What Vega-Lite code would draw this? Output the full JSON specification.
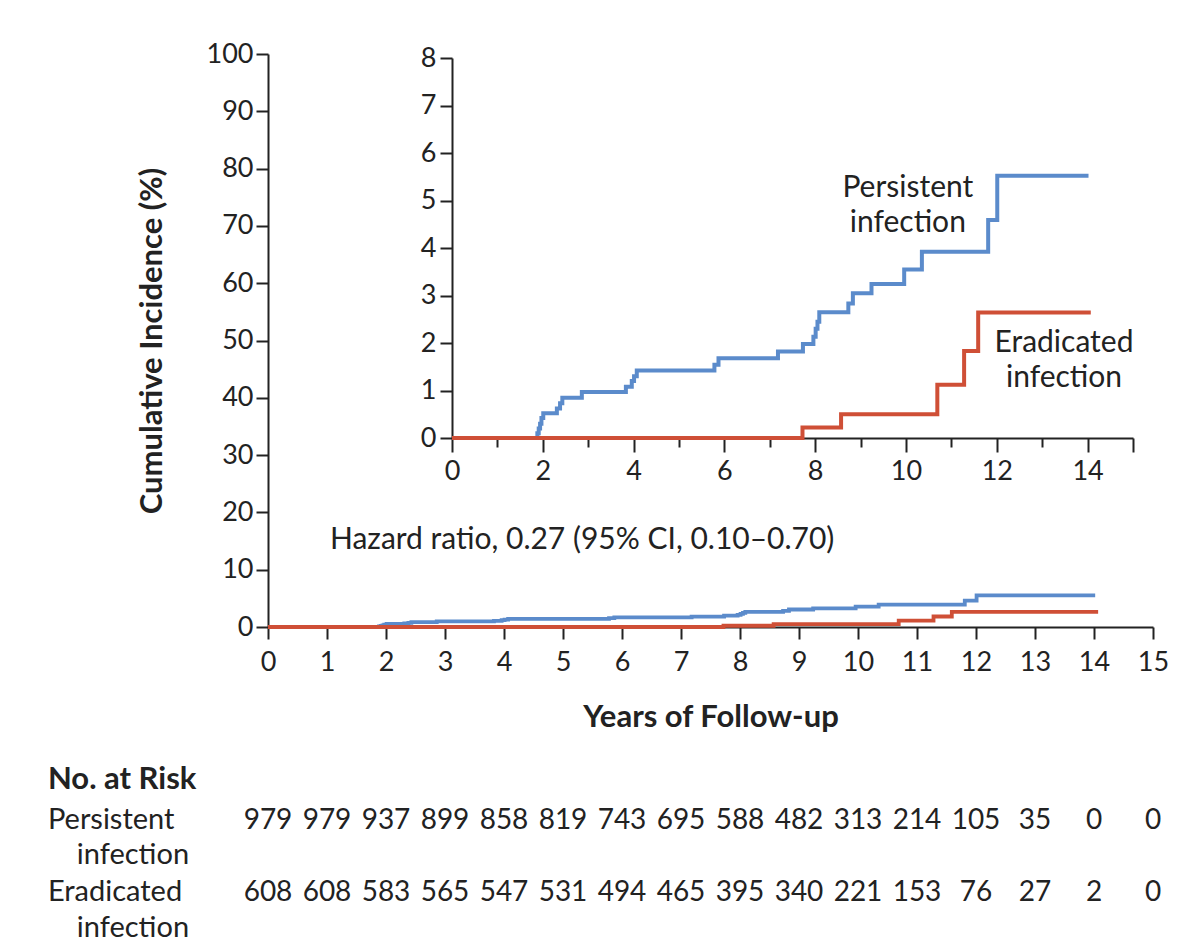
{
  "$schema": "https://vega.github.io/schema/vega-lite/v6.json",
  "autosize": "none",
  "width": 885,
  "height": 573,
  "padding": {"left": 268, "top": 54, "right": 47, "bottom": 321},
  "background": "white",
  "config": {
    "view": {"stroke": null},
    "font": "Lato",
    "text": {"font": "Lato", "color": "#222222"},
    "axis": {
      "grid": false,
      "domainColor": "#222222",
      "tickColor": "#222222",
      "labelColor": "#222222",
      "titleColor": "#222222",
      "labelFont": "Lato",
      "titleFont": "Lato",
      "labelFontSize": 27,
      "domainWidth": 2,
      "tickWidth": 2,
      "labelFlush": false,
      "labelOverlap": false
    }
  },
  "datasets": {
    "curves": [
      {"group": "Persistent", "years": 0, "pct": 0},
      {"group": "Persistent", "years": 1.88, "pct": 0.1},
      {"group": "Persistent", "years": 1.91, "pct": 0.2},
      {"group": "Persistent", "years": 1.94, "pct": 0.3},
      {"group": "Persistent", "years": 1.97, "pct": 0.42},
      {"group": "Persistent", "years": 2.01, "pct": 0.52},
      {"group": "Persistent", "years": 2.31, "pct": 0.62},
      {"group": "Persistent", "years": 2.38, "pct": 0.73},
      {"group": "Persistent", "years": 2.43, "pct": 0.85},
      {"group": "Persistent", "years": 2.86, "pct": 0.97},
      {"group": "Persistent", "years": 3.83, "pct": 1.08},
      {"group": "Persistent", "years": 3.96, "pct": 1.2},
      {"group": "Persistent", "years": 4.01, "pct": 1.3},
      {"group": "Persistent", "years": 4.07, "pct": 1.42},
      {"group": "Persistent", "years": 5.78, "pct": 1.54},
      {"group": "Persistent", "years": 5.87, "pct": 1.68},
      {"group": "Persistent", "years": 7.18, "pct": 1.82},
      {"group": "Persistent", "years": 7.73, "pct": 1.98},
      {"group": "Persistent", "years": 7.96, "pct": 2.13},
      {"group": "Persistent", "years": 8.01, "pct": 2.3},
      {"group": "Persistent", "years": 8.05, "pct": 2.45},
      {"group": "Persistent", "years": 8.09, "pct": 2.65},
      {"group": "Persistent", "years": 8.73, "pct": 2.83},
      {"group": "Persistent", "years": 8.83, "pct": 3.05},
      {"group": "Persistent", "years": 9.24, "pct": 3.24},
      {"group": "Persistent", "years": 9.96, "pct": 3.55},
      {"group": "Persistent", "years": 10.35, "pct": 3.92},
      {"group": "Persistent", "years": 11.81, "pct": 4.59},
      {"group": "Persistent", "years": 12.01, "pct": 5.52},
      {"group": "Persistent", "years": 14.02, "pct": 5.52},
      {"group": "Eradicated", "years": 0, "pct": 0},
      {"group": "Eradicated", "years": 7.72, "pct": 0.22},
      {"group": "Eradicated", "years": 8.57, "pct": 0.5},
      {"group": "Eradicated", "years": 10.69, "pct": 1.12},
      {"group": "Eradicated", "years": 11.28, "pct": 1.83},
      {"group": "Eradicated", "years": 11.59, "pct": 2.64},
      {"group": "Eradicated", "years": 14.07, "pct": 2.64}
    ],
    "risk": [
      {"group": "Persistent", "row": 0, "years": 0, "n": 979},
      {"group": "Persistent", "row": 0, "years": 1, "n": 979},
      {"group": "Persistent", "row": 0, "years": 2, "n": 937},
      {"group": "Persistent", "row": 0, "years": 3, "n": 899},
      {"group": "Persistent", "row": 0, "years": 4, "n": 858},
      {"group": "Persistent", "row": 0, "years": 5, "n": 819},
      {"group": "Persistent", "row": 0, "years": 6, "n": 743},
      {"group": "Persistent", "row": 0, "years": 7, "n": 695},
      {"group": "Persistent", "row": 0, "years": 8, "n": 588},
      {"group": "Persistent", "row": 0, "years": 9, "n": 482},
      {"group": "Persistent", "row": 0, "years": 10, "n": 313},
      {"group": "Persistent", "row": 0, "years": 11, "n": 214},
      {"group": "Persistent", "row": 0, "years": 12, "n": 105},
      {"group": "Persistent", "row": 0, "years": 13, "n": 35},
      {"group": "Persistent", "row": 0, "years": 14, "n": 0},
      {"group": "Persistent", "row": 0, "years": 15, "n": 0},
      {"group": "Eradicated", "row": 1, "years": 0, "n": 608},
      {"group": "Eradicated", "row": 1, "years": 1, "n": 608},
      {"group": "Eradicated", "row": 1, "years": 2, "n": 583},
      {"group": "Eradicated", "row": 1, "years": 3, "n": 565},
      {"group": "Eradicated", "row": 1, "years": 4, "n": 547},
      {"group": "Eradicated", "row": 1, "years": 5, "n": 531},
      {"group": "Eradicated", "row": 1, "years": 6, "n": 494},
      {"group": "Eradicated", "row": 1, "years": 7, "n": 465},
      {"group": "Eradicated", "row": 1, "years": 8, "n": 395},
      {"group": "Eradicated", "row": 1, "years": 9, "n": 340},
      {"group": "Eradicated", "row": 1, "years": 10, "n": 221},
      {"group": "Eradicated", "row": 1, "years": 11, "n": 153},
      {"group": "Eradicated", "row": 1, "years": 12, "n": 76},
      {"group": "Eradicated", "row": 1, "years": 13, "n": 27},
      {"group": "Eradicated", "row": 1, "years": 14, "n": 2},
      {"group": "Eradicated", "row": 1, "years": 15, "n": 0}
    ],
    "rowlabels": [
      {"kind": "heading", "years": -3.73, "row": -0.556, "label": "No. at Risk"},
      {"kind": "row", "years": -3.73, "row": 0, "label": "Persistent"},
      {"kind": "row", "years": -3.24, "row": 0.486, "label": "infection"},
      {"kind": "row", "years": -3.73, "row": 1, "label": "Eradicated"},
      {"kind": "row", "years": -3.24, "row": 1.5, "label": "infection"}
    ],
    "insetlabels": [
      {"years": 10.04, "pct": 5.07, "label": "Persistent"},
      {"years": 10.04, "pct": 4.34, "label": "infection"},
      {"years": 13.48, "pct": 1.81, "label": "Eradicated"},
      {"years": 13.48, "pct": 1.07, "label": "infection"}
    ],
    "hazard": [
      {"years": 1.05, "pct": 13.6, "label": "Hazard ratio, 0.27 (95% CI, 0.10–0.70)"}
    ]
  },
  "layer": [
    {
      "encoding": {
        "x": {
          "field": "years", "type": "quantitative",
          "scale": {"domain": [0, 15], "nice": false, "zero": false},
          "axis": {
            "orient": "bottom",
            "values": [0, 1, 2, 3, 4, 5, 6, 7, 8, 9, 10, 11, 12, 13, 14, 15],
            "tickSize": 12, "labelPadding": 10,
            "title": "Years of Follow-up", "titleFontSize": 31, "titleFontWeight": "bold", "titlePadding": 27
          }
        },
        "y": {
          "field": "pct", "type": "quantitative",
          "scale": {"domain": [0, 100], "nice": false, "zero": false},
          "axis": {
            "orient": "left",
            "values": [0, 10, 20, 30, 40, 50, 60, 70, 80, 90, 100],
            "tickSize": 12, "labelPadding": 3,
            "title": "Cumulative Incidence (%)", "titleFontSize": 31, "titleFontWeight": "bold", "titlePadding": 38
          }
        }
      },
      "layer": [
        {
          "data": {"name": "curves"},
          "transform": [{"filter": "datum.group === 'Persistent'"}],
          "mark": {"type": "line", "interpolate": "step-after", "stroke": "#5b8bcb", "strokeWidth": 3.8, "clip": false}
        },
        {
          "data": {"name": "curves"},
          "transform": [{"filter": "datum.group === 'Eradicated'"}],
          "mark": {"type": "line", "interpolate": "step-after", "stroke": "#cf4f36", "strokeWidth": 3.8, "clip": false}
        },
        {
          "data": {"name": "hazard"},
          "mark": {"type": "text", "align": "left", "baseline": "alphabetic", "fontSize": 30},
          "encoding": {"text": {"field": "label"}}
        }
      ]
    },
    {
      "encoding": {
        "x": {
          "field": "years", "type": "quantitative",
          "scale": {"domain": [0, 15], "range": [184, 865], "nice": false, "zero": false},
          "axis": {
            "orient": "bottom", "offset": -189, "title": null,
            "values": [0, 2, 4, 6, 8, 10, 12, 14, 15],
            "labelExpr": "datum.value == 15 ? '' : datum.label",
            "tickSize": 14, "labelPadding": 6
          }
        },
        "y": {
          "field": "pct", "type": "quantitative",
          "scale": {"domain": [0, 8], "range": [384, 4], "nice": false, "zero": false},
          "axis": {
            "orient": "left", "offset": -184, "title": null,
            "values": [0, 1, 2, 3, 4, 5, 6, 7, 8],
            "tickSize": 12, "labelPadding": 4
          }
        }
      },
      "layer": [
        {
          "data": {"name": "curves"},
          "transform": [{"filter": "datum.group === 'Persistent'"}],
          "mark": {"type": "line", "interpolate": "step-after", "stroke": "#5b8bcb", "strokeWidth": 4, "clip": false}
        },
        {
          "data": {"name": "curves"},
          "transform": [{"filter": "datum.group === 'Eradicated'"}],
          "mark": {"type": "line", "interpolate": "step-after", "stroke": "#cf4f36", "strokeWidth": 4, "clip": false}
        }
      ]
    },
    {
      "data": {"name": "insetlabels"},
      "mark": {"type": "text", "align": "center", "baseline": "alphabetic", "fontSize": 30},
      "encoding": {
        "x": {
          "field": "years", "type": "quantitative",
          "scale": {"domain": [0, 15], "range": [184, 865], "nice": false, "zero": false},
          "axis": {
            "orient": "bottom", "offset": -189, "title": null, "domain": false, "labels": false,
            "values": [1, 3, 5, 7, 9, 11, 13],
            "tickSize": 9
          }
        },
        "y": {
          "field": "pct", "type": "quantitative",
          "scale": {"domain": [0, 8], "range": [384, 4], "nice": false, "zero": false},
          "axis": null
        },
        "text": {"field": "label"}
      }
    },
    {
      "encoding": {
        "x": {
          "field": "years", "type": "quantitative",
          "scale": {"domain": [0, 15], "range": [0, 885], "nice": false, "zero": false},
          "axis": null
        },
        "y": {
          "field": "row", "type": "quantitative",
          "scale": {"domain": [0, 1], "range": [775, 847], "nice": false, "zero": false},
          "axis": null
        }
      },
      "layer": [
        {
          "data": {"name": "risk"},
          "mark": {"type": "text", "align": "center", "baseline": "alphabetic", "fontSize": 28},
          "encoding": {"text": {"field": "n", "type": "quantitative"}}
        },
        {
          "data": {"name": "rowlabels"},
          "transform": [{"filter": "datum.kind === 'row'"}],
          "mark": {"type": "text", "align": "left", "baseline": "alphabetic", "fontSize": 29},
          "encoding": {"text": {"field": "label"}}
        },
        {
          "data": {"name": "rowlabels"},
          "transform": [{"filter": "datum.kind === 'heading'"}],
          "mark": {"type": "text", "align": "left", "baseline": "alphabetic", "fontSize": 31, "fontWeight": "bold"},
          "encoding": {"text": {"field": "label"}}
        }
      ]
    }
  ],
  "resolve": {
    "scale": {"x": "independent", "y": "independent"},
    "axis": {"x": "independent", "y": "independent"}
  }
}
